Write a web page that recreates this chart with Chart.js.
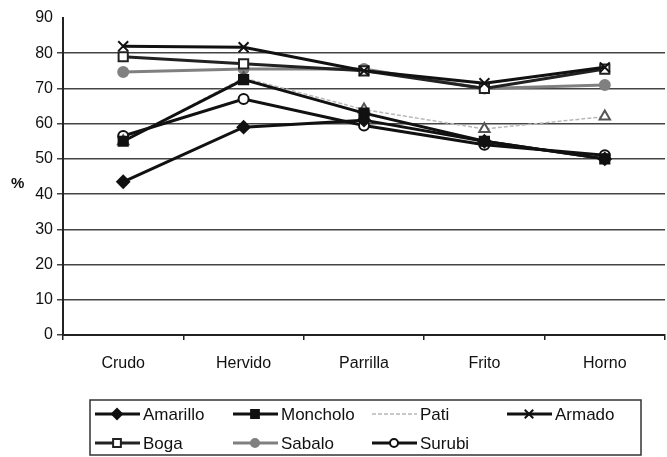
<!DOCTYPE html>
<html>
<head>
<meta charset="utf-8">
<script src="https://cdn.jsdelivr.net/npm/chart.js@4/dist/chart.umd.min.js"></script>
<style>
    html, body { margin: 0; padding: 0; background: #fff; overflow: hidden; }
    /* a little wider than the window so the plot reaches the right edge */
    #wrap { width: 674px; height: 457px; position: relative; }
    canvas { display: block; }
</style>
</head>
<body>
<div id="wrap"><canvas id="coccion"></canvas></div>
<script>
//data
const categories = ['Crudo', 'Hervido', 'Parrilla', 'Frito', 'Horno'];
const yTicks = [0, 10, 20, 30, 40, 50, 60, 70, 80, 90];

const amarillo = [43.5, 59, 61, 55, 50];
const moncholo = [55, 72.5, 63, 55, 50];
const pati = [55, 73, 64, 58.5, 62];
const armado = [82, 81.7, 75, 71.5, 76];
const boga = [79, 77, 75, 70, 75.5];
const sabalo = [74.7, 75.5, 75.5, 70, 71];
const surubi = [56.5, 67, 59.5, 54, 51];

const FONT = "'Liberation Sans', Arial, sans-serif";

//legend drawn as a 4 column grid inside a box
const gridLegend = {
    id: 'gridLegend',
    afterDraw(chart) {
        const ctx = chart.ctx;
        const sets = chart.data.datasets;
        const cols = [95, 233, 372, 507];
        const rows = [414, 443];

        ctx.save();
        ctx.strokeStyle = '#333';
        ctx.lineWidth = 1.5;
        ctx.strokeRect(90, 400, 551, 55);

        sets.forEach((ds, i) => {
            const x = cols[i % 4];
            const y = rows[Math.floor(i / 4)];
            ctx.strokeStyle = ds.borderColor;
            ctx.lineWidth = ds.borderWidth;
            ctx.setLineDash(ds.borderDash || []);
            ctx.beginPath();
            ctx.moveTo(x, y);
            ctx.lineTo(x + 45, y);
            ctx.stroke();
            ctx.setLineDash([]);

            //pati sample shows only the faint line
            if (ds.label !== 'Pati' && Chart.helpers && Chart.helpers.drawPoint) {
                ctx.fillStyle = ds.pointBackgroundColor;
                ctx.strokeStyle = ds.pointBorderColor;
                ctx.lineWidth = ds.pointBorderWidth;
                Chart.helpers.drawPoint(ctx, {
                    pointStyle: ds.pointStyle,
                    radius: ds.pointRadius - 1,
                    rotation: 0,
                    borderWidth: ds.pointBorderWidth
                }, x + 22, y);
            }

            ctx.fillStyle = '#111';
            ctx.font = '17px ' + FONT;
            ctx.textBaseline = 'middle';
            ctx.fillText(ds.label, x + 48, y + 1);
        });

        //y axis title
        ctx.font = 'bold 15px ' + FONT;
        ctx.fillStyle = '#111';
        ctx.textBaseline = 'middle';
        ctx.fillText('%', 11, 184);
        ctx.restore();
    }
};

function line(label, data, color, width, style, fill, radius, extra) {
    return Object.assign({
        label: label,
        data: data,
        borderColor: color,
        borderWidth: width,
        pointStyle: style,
        pointRadius: radius,
        pointHoverRadius: radius,
        pointBackgroundColor: fill,
        pointBorderColor: color,
        pointBorderWidth: 2,
        tension: 0,
        fill: false
    }, extra || {});
}

const ctx = document.getElementById('coccion').getContext('2d');
new Chart(ctx, {
    type: 'line',
    data: {
        labels: categories,
        datasets: [
            line('Amarillo', amarillo, '#111', 3, 'rectRot', '#111', 6),
            line('Moncholo', moncholo, '#111', 3, 'rect', '#111', 6.5),
            line('Pati', pati, '#b8b8b8', 1.5, 'triangle', '#fff', 6,
                { borderDash: [4, 2], pointBorderColor: '#555' }),
            line('Armado', armado, '#111', 3, 'crossRot', '#111', 7),
            line('Boga', boga, '#222', 3, 'rect', '#fff', 6.5),
            line('Sabalo', sabalo, '#808080', 3, 'circle', '#808080', 5),
            line('Surubi', surubi, '#111', 3, 'circle', '#fff', 5)
        ]
    },
    options: {
        responsive: true,
        maintainAspectRatio: false,
        animation: false,
        layout: {
            padding: { top: 18, right: 0, bottom: 72, left: 0 }
        },
        plugins: {
            legend: { display: false },
            tooltip: { enabled: false }
        },
        scales: {
            x: {
                offset: true,
                afterFit: (scale) => {
                    scale.height = 50;
                    scale.paddingLeft = 0;
                    scale.paddingRight = 0;
                },
                grid: {
                    offset: true,
                    drawOnChartArea: false,
                    drawTicks: true,
                    tickLength: 5,
                    color: '#222',
                    lineWidth: 1.5
                },
                border: { color: '#222', width: 2 },
                ticks: {
                    color: '#111',
                    padding: 14,
                    font: { family: FONT, size: 16 }
                }
            },
            y: {
                min: 0,
                max: 90,
                afterFit: (scale) => { scale.width = 63; },
                afterBuildTicks: (scale) => {
                    scale.ticks = yTicks.map(v => ({ value: v }));
                },
                grid: {
                    color: (c) => c.tick && c.tick.value === 90 ? 'rgba(0,0,0,0)' : '#444',
                    lineWidth: 1.5,
                    tickLength: 6
                },
                border: { color: '#222', width: 2 },
                ticks: {
                    color: '#111',
                    padding: 4,
                    font: { family: FONT, size: 16 }
                }
            }
        }
    },
    plugins: [gridLegend]
});
</script>
</body>
</html>
